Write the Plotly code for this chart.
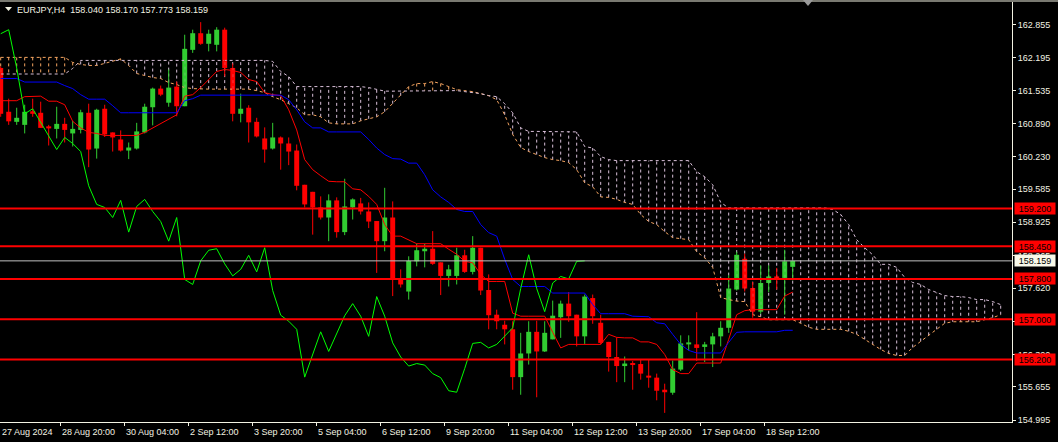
import plotly.graph_objects as go

# ---------------- data (EURJPY H4, bar 0 = 27 Aug 2024 12:00) ----------------
opens = [161.99, 161.12, 160.92, 160.86, 161.13, 161.10, 160.83, 160.78, 160.88, 160.69,
         160.76, 161.10, 160.39, 161.18, 160.71, 160.57, 160.35, 160.39, 160.71, 161.21,
         161.58, 161.30, 161.62, 161.23, 162.35, 162.68, 162.47, 162.45, 162.75, 161.99,
         161.08, 161.20, 160.92, 160.59, 160.39, 160.61, 160.49, 160.35, 159.67, 159.53,
         159.22, 159.02, 159.36, 158.73, 159.22, 159.30, 159.14, 158.95, 158.55, 159.02,
         157.81, 157.55, 158.15, 158.35, 158.40, 158.13, 157.86, 157.86, 158.27, 157.94,
         158.42, 157.58, 157.09, 156.89, 156.80, 155.85, 156.32, 156.75, 156.36, 156.60,
         157.04, 157.31, 157.09, 156.66, 157.42, 156.93, 156.55, 156.25, 156.07, 156.13,
         156.11, 155.88, 155.84, 155.60, 155.54, 156.00, 156.50, 156.50, 156.45, 156.50,
         156.66, 156.83, 157.59, 158.20, 157.62, 157.15, 157.72, 157.85, 157.82, 158.040]
highs = [162.02, 161.38, 161.20, 161.26, 161.38, 161.32, 160.86, 161.22, 161.00, 160.94,
         161.16, 161.28, 161.18, 161.26, 160.71, 160.75, 160.51, 160.90, 161.28, 161.60,
         161.64, 161.96, 161.72, 162.65, 162.75, 162.90, 162.75, 162.80, 162.79, 162.08,
         161.48, 161.25, 161.00, 160.81, 160.90, 160.63, 160.61, 160.47, 159.67, 159.53,
         159.44, 159.48, 159.42, 159.79, 159.40, 159.41, 159.32, 158.95, 159.61, 159.34,
         157.99, 158.25, 158.50, 158.50, 158.75, 158.13, 158.08, 158.42, 158.38, 158.65,
         158.42, 157.89, 157.19, 156.97, 156.96, 156.73, 156.96, 156.97, 156.96, 157.37,
         157.37, 157.54, 157.09, 157.49, 157.49, 157.09, 156.55, 156.64, 156.26, 156.17,
         156.20, 156.20, 155.92, 155.72, 156.18, 156.68, 156.68, 157.14, 156.55, 156.73,
         156.96, 157.87, 158.34, 158.30, 157.74, 158.07, 158.07, 158.02, 158.38, 158.170]
lows = [161.02, 160.86, 160.86, 160.69, 161.02, 160.80, 160.45, 160.59, 160.51, 160.43,
        160.69, 160.02, 160.19, 160.62, 160.33, 160.33, 160.18, 160.37, 160.69, 160.85,
        161.43, 161.22, 161.03, 161.23, 162.29, 162.45, 162.32, 162.32, 161.82, 160.93,
        160.91, 160.51, 160.61, 160.11, 160.37, 159.97, 160.06, 159.56, 159.22, 158.68,
        158.98, 158.55, 158.62, 158.67, 158.98, 159.08, 158.81, 157.92, 158.35, 157.46,
        157.63, 157.39, 158.05, 158.03, 158.08, 157.48, 157.65, 157.69, 157.92, 157.89,
        157.48, 156.80, 156.80, 156.50, 155.60, 155.50, 156.10, 155.45, 156.35, 156.60,
        156.63, 156.95, 156.46, 156.51, 156.91, 156.50, 155.96, 155.75, 155.75, 155.60,
        155.80, 155.64, 155.39, 155.14, 155.50, 155.97, 156.38, 156.17, 156.15, 156.05,
        156.46, 156.73, 157.57, 157.55, 157.03, 157.11, 157.54, 157.59, 157.09, 157.773]
closes = [161.08, 160.93, 161.00, 161.12, 161.08, 160.80, 160.79, 160.88, 160.76, 160.78,
          161.11, 160.37, 161.16, 160.67, 160.61, 160.35, 160.41, 160.73, 161.22, 161.58,
          161.46, 161.60, 161.23, 162.37, 162.68, 162.47, 162.67, 162.75, 161.99, 161.08,
          161.18, 160.91, 160.63, 160.37, 160.61, 160.49, 160.33, 159.65, 159.28, 159.22,
          159.02, 159.36, 158.73, 159.24, 159.38, 159.14, 158.94, 158.55, 159.02, 157.79,
          157.69, 158.16, 158.37, 158.40, 158.10, 157.86, 157.99, 158.27, 157.94, 158.42,
          157.57, 157.08, 156.96, 156.80, 155.85, 156.32, 156.75, 156.36, 156.73, 157.07,
          157.31, 157.06, 156.66, 157.45, 157.06, 156.53, 156.25, 156.07, 156.12, 156.09,
          155.92, 155.84, 155.58, 155.55, 156.02, 156.52, 156.54, 156.43, 156.50, 156.66,
          156.83, 157.61, 158.28, 157.61, 157.15, 157.72, 157.85, 157.80, 158.15, 158.159]

tenkan = [161.34, 161.34, 161.34, 161.42, 161.43, 161.43, 161.33, 161.33, 161.26, 160.93,
          160.80, 160.71, 160.69, 160.65, 160.65, 160.65, 160.65, 160.65, 160.71, 160.80,
          160.88, 160.98, 161.06, 161.43, 161.46, 161.60, 161.76, 161.92, 161.96, 161.94,
          161.90, 161.76, 161.72, 161.50, 161.46, 161.44, 161.16, 160.76, 160.17, 159.97,
          159.85, 159.74, 159.73, 159.73, 159.59, 159.57, 159.44, 159.28, 158.88, 158.65,
          158.65, 158.58, 158.50, 158.50, 158.50, 158.50, 158.39, 158.29, 158.15, 158.12,
          157.89, 157.75, 157.75, 157.75, 157.12, 157.06, 157.06, 157.06, 157.06, 156.74,
          156.43, 156.50, 156.50, 156.50, 156.50, 156.50, 156.70, 156.64, 156.63, 156.63,
          156.55, 156.55, 156.50, 156.30, 156.00, 155.92, 155.92, 156.13, 156.13, 156.13,
          156.13, 156.60, 157.09, 157.17, 157.19, 157.19, 157.19, 157.19, 157.46, 157.54]
kijun = [161.78, 161.78, 161.78, 161.71, 161.71, 161.71, 161.71, 161.71, 161.64, 161.58,
         161.46, 161.37, 161.37, 161.37, 161.24, 161.10, 161.10, 161.10, 161.10, 161.10,
         161.10, 161.10, 161.10, 161.34, 161.38, 161.45, 161.45, 161.45, 161.45, 161.45,
         161.45, 161.45, 161.45, 161.45, 161.45, 161.45, 161.36, 161.16, 160.92, 160.80,
         160.80, 160.72, 160.72, 160.72, 160.72, 160.72, 160.57, 160.40, 160.27, 160.19,
         160.18, 160.10, 160.10, 159.87, 159.57, 159.43, 159.32, 159.18, 159.14, 159.14,
         158.88, 158.72, 158.65, 158.19, 157.79, 157.65, 157.65, 157.65, 157.65, 157.52,
         157.52, 157.52, 157.52, 157.52, 157.29, 157.11, 157.11, 157.11, 157.11, 157.06,
         157.05, 157.05, 156.93, 156.91, 156.70, 156.50, 156.38, 156.33, 156.33, 156.33,
         156.33, 156.54, 156.74, 156.75, 156.75, 156.75, 156.75, 156.75, 156.78, 156.78]
# Senkou spans, already shifted 26 bars ahead (bars 0..125)
span_a = [162.20, 162.20, 162.20, 162.20, 162.20, 162.20, 162.20, 162.20, 162.20, 162.10,
          162.06, 162.04, 162.04, 162.08, 162.12, 162.17, 162.04, 161.88, 161.84, 161.80,
          161.78, 161.70, 161.66, 161.60, 161.58, 161.57, 161.57, 161.57, 161.57, 161.57,
          161.57, 161.57, 161.54, 161.50, 161.42, 161.36, 161.28, 161.20, 161.06, 161.06,
          161.02, 160.90, 160.88, 160.88, 160.88, 160.94, 160.98, 161.02, 161.12, 161.28,
          161.44, 161.62, 161.68, 161.68, 161.72, 161.68, 161.62, 161.56, 161.54, 161.52,
          161.48, 161.44, 161.36, 161.06, 160.67, 160.41, 160.33, 160.27, 160.21, 160.17,
          160.15, 160.11, 159.97, 159.71, 159.63, 159.43, 159.42, 159.38, 159.32, 159.28,
          159.08, 158.94, 158.88, 158.74, 158.62, 158.60, 158.58, 158.34, 158.22, 158.03,
          157.43, 157.39, 157.36, 157.35, 157.09, 157.05, 156.99, 156.99, 156.99, 156.99,
          156.92, 156.84, 156.80, 156.80, 156.80, 156.80, 156.76, 156.70, 156.60, 156.50,
          156.40, 156.32, 156.28, 156.28, 156.44, 156.56, 156.68, 156.80, 156.92, 156.95,
          156.95, 156.95, 156.95, 156.99, 157.03, 157.09]
span_b = [161.87, 161.87, 161.87, 161.87, 161.87, 161.87, 161.87, 161.87, 161.87, 161.98,
          162.14, 162.14, 162.14, 162.14, 162.14, 162.14, 162.15, 162.15, 162.15, 162.15,
          162.15, 162.15, 162.15, 162.15, 162.15, 162.15, 162.15, 162.15, 162.15, 162.15,
          162.15, 162.15, 162.15, 162.14, 162.12, 161.92, 161.82, 161.62, 161.62, 161.62,
          161.62, 161.62, 161.62, 161.62, 161.62, 161.62, 161.60, 161.56, 161.53, 161.53,
          161.53, 161.54, 161.54, 161.54, 161.54, 161.54, 161.54, 161.54, 161.52, 161.50,
          161.48, 161.44, 161.42, 161.28, 161.10, 160.80, 160.73, 160.73, 160.73, 160.73,
          160.73, 160.73, 160.72, 160.43, 160.40, 160.23, 160.17, 160.15, 160.15, 160.15,
          160.15, 160.15, 160.15, 160.15, 160.15, 160.15, 160.15, 159.93, 159.83, 159.67,
          159.32, 159.21, 159.21, 159.21, 159.21, 159.21, 159.21, 159.21, 159.21, 159.21,
          159.21, 159.21, 159.21, 159.21, 159.18, 159.08, 158.88, 158.58, 158.42, 158.28,
          158.09, 158.09, 158.03, 157.83, 157.73, 157.69, 157.59, 157.53, 157.47, 157.45,
          157.45, 157.43, 157.39, 157.39, 157.35, 157.29]
chikou_shift = 26

levels = [159.200, 158.450, 157.800, 157.000, 156.200]
last_price = 158.159
price_ticks = [162.855, 162.195, 161.535, 160.890, 160.230, 159.585, 158.925,
               158.265, 157.620, 156.960, 156.300, 155.655, 154.995]
time_tick_bars = [8, 16, 24, 32, 40, 48, 56, 64, 72, 80, 88, 96]
time_tick_labels = ["28 Aug 20:00", "30 Aug 04:00", "2 Sep 12:00", "3 Sep 20:00",
                    "5 Sep 04:00", "6 Sep 12:00", "9 Sep 20:00", "11 Sep 04:00",
                    "12 Sep 12:00", "13 Sep 20:00", "17 Sep 04:00", "18 Sep 12:00"]
first_label = "27 Aug 2024"
title_text = "EURJPY,H4\u00a0\u00a0158.040 158.170 157.773 158.159"

# ---------------- style / layout ----------------
CREAM = "#f2f2e2"
BULL = "#32cd32"
BEAR = "#ff0000"
SANDY = "#f4a460"
THISTLE = "#d8bfd8"
FONT = "Liberation Sans"
W, H = 1058, 442
ML, MR, MT, MB = 0, 46, 2, 20
PW, PH = W - ML - MR, H - MT - MB
BAR_PX = 8.0
x_lo = -0.7 / BAR_PX
x_range = [x_lo, x_lo + PW / BAR_PX]
y_range = [154.959, 163.300]


def pxx(p):
    return (p - ML) / PW


def pxy(p):
    return 1 - (p - MT) / PH


fig = go.Figure()
DASH = "3px,3px"

# cloud hatch
hs_x, hs_y, ht_x, ht_y = [], [], [], []
for j, (a, b) in enumerate(zip(span_a, span_b)):
    if a >= b:
        hs_x += [j, j, None]
        hs_y += [a, b, None]
    else:
        ht_x += [j, j, None]
        ht_y += [a, b, None]
fig.add_trace(go.Scatter(x=hs_x, y=hs_y, mode="lines",
                         line=dict(color=SANDY, width=1, dash=DASH), hoverinfo="skip"))
fig.add_trace(go.Scatter(x=ht_x, y=ht_y, mode="lines",
                         line=dict(color=THISTLE, width=1, dash=DASH), hoverinfo="skip"))
xs_cloud = list(range(len(span_a)))
fig.add_trace(go.Scatter(x=xs_cloud, y=span_a, mode="lines",
                         line=dict(color=SANDY, width=1, dash=DASH), hoverinfo="skip"))
fig.add_trace(go.Scatter(x=xs_cloud, y=span_b, mode="lines",
                         line=dict(color=THISTLE, width=1, dash=DASH), hoverinfo="skip"))

# candles
n = len(closes)
for up, col in ((True, BULL), (False, BEAR)):
    idx = [i for i in range(n) if (closes[i] >= opens[i]) == up]
    wx, wy = [], []
    for i in idx:
        wx += [i, i, None]
        wy += [lows[i], highs[i], None]
    fig.add_trace(go.Scatter(x=wx, y=wy, mode="lines", line=dict(color=col, width=1),
                             hoverinfo="skip"))
    fig.add_trace(go.Bar(x=idx,
                         y=[max(abs(closes[i] - opens[i]), 0.02) for i in idx],
                         base=[min(opens[i], closes[i]) for i in idx],
                         width=0.62, marker=dict(color=col, line=dict(width=0)),
                         hoverinfo="skip"))

# ichimoku lines
xs = list(range(n))
fig.add_trace(go.Scatter(x=xs, y=tenkan, mode="lines", line=dict(color="#ff0000", width=1),
                         hoverinfo="skip"))
fig.add_trace(go.Scatter(x=xs, y=kijun, mode="lines", line=dict(color="#0000ff", width=1),
                         hoverinfo="skip"))
fig.add_trace(go.Scatter(x=xs[:n - chikou_shift], y=closes[chikou_shift:], mode="lines",
                         line=dict(color="#00ff00", width=1), hoverinfo="skip"))

shapes = []
for lv in levels:
    shapes.append(dict(type="line", xref="paper", x0=0, x1=1, yref="y", y0=lv, y1=lv,
                       line=dict(color="#ff0000", width=2), layer="above"))
shapes.append(dict(type="line", xref="paper", x0=0, x1=1, yref="y", y0=last_price,
                   y1=last_price, line=dict(color="#c0c0c0", width=1), layer="above"))
# top frame line
shapes.append(dict(type="line", xref="paper", yref="paper", x0=0, x1=W / PW,
                   y0=pxy(1), y1=pxy(1), line=dict(color=CREAM, width=1)))
# title triangle
shapes.append(dict(type="path", xref="paper", yref="paper",
                   path=f"M {pxx(5)},{pxy(7)} L {pxx(12)},{pxy(7)} L {pxx(8.5)},{pxy(11)} Z",
                   fillcolor=CREAM, line=dict(width=0)))
# chart shift marker
shapes.append(dict(type="path", xref="paper", yref="paper",
                   path=f"M {pxx(803)},{pxy(0)} L {pxx(813)},{pxy(0)} L {pxx(808)},{pxy(6)} Z",
                   fillcolor="#9a9a9a", line=dict(width=0)))

annotations = [dict(xref="paper", yref="paper", x=pxx(15), y=pxy(3), xanchor="left",
                    yanchor="top", text=title_text, showarrow=False,
                    font=dict(family=FONT, size=9, color=CREAM))]
annotations.append(dict(xref="paper", yref="paper", x=0, y=0, yshift=-3, xanchor="left",
                        yanchor="top", text=first_label, showarrow=False,
                        font=dict(family=FONT, size=9, color=CREAM)))
for b, lab in zip(time_tick_bars, time_tick_labels):
    annotations.append(dict(xref="x", yref="paper", x=b - 0.55, y=0, yshift=-3,
                            xanchor="left", yanchor="top", text=lab, showarrow=False,
                            font=dict(family=FONT, size=9, color=CREAM)))
for lv in levels:
    annotations.append(dict(xref="paper", yref="y", x=1 + 2 / PW, y=lv, xanchor="left",
                            yanchor="middle", text=f"{lv:.3f}", showarrow=False,
                            bgcolor="#ff0000", borderpad=0, width=40, height=11,
                            font=dict(family=FONT, size=9, color="#000000")))
annotations.append(dict(xref="paper", yref="y", x=1 + 2 / PW, y=last_price, xanchor="left",
                        yanchor="middle", text=f"{last_price:.3f}", showarrow=False,
                        bgcolor="#f8f8e8", borderpad=0, width=40, height=11,
                        font=dict(family=FONT, size=9, color="#000000")))

fig.update_layout(
    width=W, height=H, margin=dict(l=ML, r=MR, t=MT, b=MB, pad=0),
    paper_bgcolor="#000000", plot_bgcolor="#000000", showlegend=False,
    barmode="overlay", shapes=shapes, annotations=annotations,
    font=dict(family=FONT, size=9, color=CREAM),
    xaxis=dict(range=x_range, showgrid=False, zeroline=False, showline=True,
               linecolor=CREAM, linewidth=1, ticks="outside", ticklen=3, tickcolor=CREAM,
               tickvals=[b - 0.55 for b in time_tick_bars], showticklabels=False,
               fixedrange=True),
    yaxis=dict(range=y_range, side="right", showgrid=False, zeroline=False, showline=True,
               linecolor=CREAM, linewidth=1, ticks="outside", ticklen=3, tickcolor=CREAM,
               tickvals=price_ticks, ticktext=[f"{t:.3f}" for t in price_ticks],
               tickfont=dict(family=FONT, size=9, color=CREAM), fixedrange=True),
)

fig.write_html("out.html", config={"displayModeBar": False},
               post_script="document.body.style.margin='0';document.body.style.padding='0';"
                           "document.body.style.background='#000000';")
